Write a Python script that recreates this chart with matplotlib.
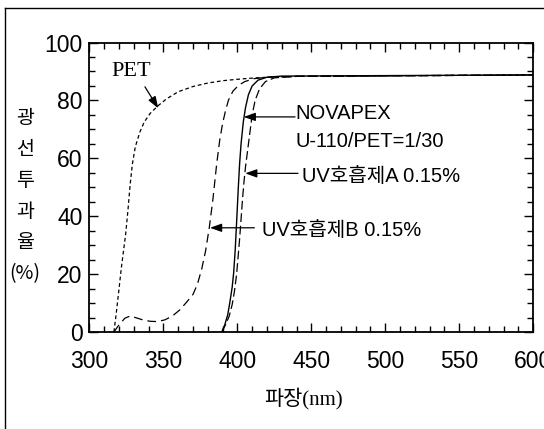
import matplotlib
matplotlib.use("Agg")
import matplotlib.pyplot as plt
from matplotlib.lines import Line2D
from matplotlib.ticker import MultipleLocator

plt.rcParams['font.family'] = ['Liberation Sans', 'Noto Sans CJK KR', 'DejaVu Sans']

# ---- data (wavelength nm, transmittance %) ----
pet_wl = [316.5, 318, 320, 321.5, 323, 324.5, 326, 327.5, 329, 331, 334, 337, 341,
          346, 352, 360, 370, 380, 390, 400, 410, 420, 440, 500, 600]
pet_t = [0, 6, 15, 22, 28, 34, 42, 51, 58, 64, 69, 72.5, 75.5,
         78, 80.5, 83, 84.8, 86, 86.8, 87.3, 87.7, 88, 88.3, 88.5, 88.8]

b_wl = [316.5, 320, 324, 327.5, 331, 336, 341, 346, 351, 356, 361, 366, 370, 373,
        376, 378.5, 381, 383.5, 386, 388, 390, 392, 394, 397, 401, 405, 411, 420, 440, 600]
b_t = [0, 2.5, 4.8, 5.5, 5, 4.2, 3.7, 3.6, 4.2, 5.5, 7.6, 10.5, 13, 16.5,
       22, 28, 36, 46, 58, 66, 72, 76.5, 80.1, 83.2, 85.3, 86.5, 87.5, 88, 88.3, 88.8]

nova_wl = [389.5, 391.5, 393.5, 395, 396.5, 397.5, 398.5, 399.5, 400.5, 401.5, 402.5,
           404, 405.5, 407.5, 410, 414, 420, 430, 600]
nova_t = [0, 2.5, 6, 10.5, 15.5, 20.5, 28, 38, 48.5, 58, 65,
          72.5, 77.5, 82, 85, 87, 88, 88.4, 88.8]

a_wl = [389.5, 392, 394.5, 396.5, 398, 399.5, 400.5, 401.5, 402.5, 403.5, 404.5, 405.5,
        407, 408.5, 410, 412, 415, 419, 425, 440, 600]
a_t = [0, 2.5, 5.5, 9.5, 14, 20, 26, 32, 39, 46, 52, 57,
       63, 69, 75, 80, 84, 86.5, 87.8, 88.3, 88.8]

xticks = [300, 350, 400, 450, 500, 550, 600]
yticks = [0, 20, 40, 60, 80, 100]

fig = plt.figure(figsize=(5.44, 4.29), dpi=100)
ax = fig.add_axes([0.1645, 0.2261, 0.8155, 0.6748])

ax.plot(pet_wl, pet_t, color='black', lw=0.9, dashes=(3, 2.2))
ax.plot(b_wl, b_t, color='black', lw=0.9, dashes=(7, 4))
ax.plot(a_wl, a_t, color='black', lw=0.9, dashes=(7, 3))
ax.plot(nova_wl, nova_t, color='black', lw=1.0)

ax.set_xlim(300, 600)
ax.set_ylim(0, 100)
ax.set_xticks(xticks)
ax.set_yticks(yticks)
ax.xaxis.set_minor_locator(MultipleLocator(10))
ax.yaxis.set_minor_locator(MultipleLocator(5))
ax.tick_params(which='both', direction='in', top=True, right=True, width=1.0)
ax.tick_params(which='major', length=6.5)
ax.tick_params(which='minor', length=4.3)
ax.tick_params(axis='x', which='major', labelsize=16.5, pad=13)
ax.tick_params(axis='y', which='major', labelsize=16.5, pad=5)
for s in ax.spines.values():
    s.set_linewidth(1.3)

arrow = dict(arrowstyle='-|>,head_length=0.7,head_width=0.25', color='black', lw=0.9,
             shrinkA=0, shrinkB=0)

# labels with arrows
ax.text(315, 90, 'PET', family=['Liberation Serif', 'DejaVu Serif'], fontsize=16,
        ha='left', va='center')
ax.annotate('', xy=(346.5, 77.3), xytext=(337.5, 84.7), arrowprops=arrow)

ax.annotate('', xy=(404.3, 74.3), xytext=(439, 74.3), arrowprops=arrow)
ax.text(439, 75.6, 'NOVAPEX', fontsize=14.5, ha='left', va='center')
ax.text(439, 65.7, 'U-110/PET=1/30', fontsize=14.5, ha='left', va='center')

ax.annotate('', xy=(405.3, 54.8), xytext=(441, 54.8), arrowprops=arrow)
ax.text(444, 53.6, 'UV호흡제A 0.15%', fontsize=14.5, ha='left', va='center')

ax.annotate('', xy=(381.5, 36), xytext=(411.5, 36), arrowprops=arrow)
ax.text(416.5, 35.2, 'UV호흡제B 0.15%', fontsize=14.5, ha='left', va='center')

# axis titles
fig.text(25 / 544, 1 - 196 / 429, '광\n선\n투\n과\n율\n(%)', fontsize=14,
         family=['Noto Sans CJK KR', 'DejaVu Sans'], ha='center', va='center',
         linespacing=1.62)
fig.text(304 / 544, 1 - 399 / 429, '파장(nm)', fontsize=15,
         family=['Liberation Serif', 'Noto Sans CJK KR'], ha='center', va='center')

# page frame from the scan
fig.add_artist(Line2D([4.7 / 544, 1], [1 - 8.3 / 429, 1 - 8.3 / 429], color='black', lw=1.0))
fig.add_artist(Line2D([4.7 / 544, 4.7 / 544], [0, 1 - 8.3 / 429], color='black', lw=1.0))

fig.savefig('out.png', dpi=100)
